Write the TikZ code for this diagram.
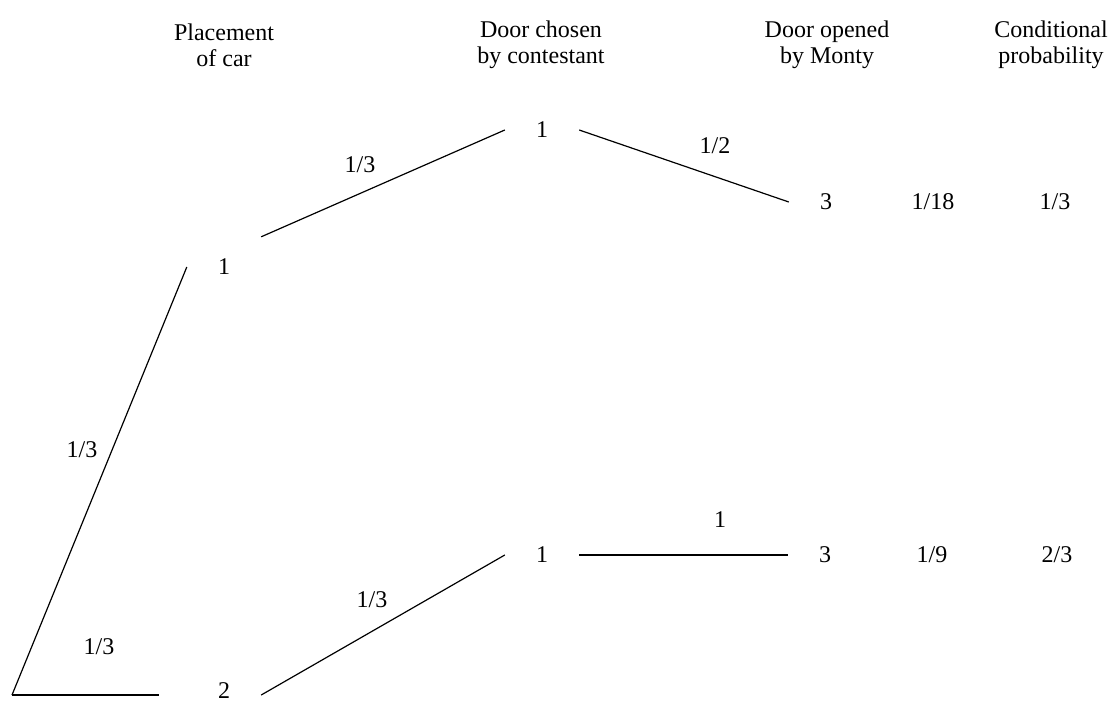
\documentclass[tikz,border=0pt]{standalone}
\usepackage{fontspec}
\setmainfont{Liberation Serif}
\begin{document}
\begin{tikzpicture}[x=1pt,y=-1pt,
  every node/.style={font=\fontsize{24}{26}\selectfont, inner sep=0pt},
  head/.style={align=center},
  tnode/.style={rectangle, minimum width=74pt, minimum height=60pt},
  lbl/.style={},
  conn/.style={line width=1.2pt}]
\useasboundingbox (0,0) rectangle (1108,704);
% headers
\node[head] (h1) at (224,45) {Placement\\of car};
\node[head] (h2) at (541,45) {Door chosen\\by contestant};
\node[head] (h3) at (827,45) {Door opened\\by Monty};
\node[head] (h4) at (1051,45) {Conditional\\probability};
% tree nodes
\coordinate (root) at (12,695);
\node[tnode] (n1) at (224,267) {1};
\node[tnode] (n2) at (224,691) {2};
\node[tnode] (n11) at (542,130) {1};
\node[tnode] (n113) at (826,202) {3};
\node[tnode] (n21) at (542,555) {1};
\node[tnode] (n213) at (825,555) {3};
% results
\node[lbl] (p1) at (933,202) {1/18};
\node[lbl] (c1) at (1055,202) {1/3};
\node[lbl] (p2) at (932,555) {1/9};
\node[lbl] (c2) at (1057,555) {2/3};
% connectors
\draw[conn] (root) -- (n1.west);
\draw[conn, shorten >=28pt] (root) -- (n2.west |- root);
\draw[conn] (n1.north east) -- (n11.west);
\draw[conn] (n11.east) -- (n113.west);
\draw[conn] (n2.east |- root) -- (n21.west);
\draw[conn] (n21.east) -- (n213.west);
% edge labels
\node[lbl] (l1) at (82,450) {1/3};
\node[lbl] (l2) at (99,647) {1/3};
\node[lbl] (l3) at (360,165) {1/3};
\node[lbl] (l4) at (715,146) {1/2};
\node[lbl] (l5) at (372,600) {1/3};
\node[lbl] (l6) at (720,520) {1};
\end{tikzpicture}
\end{document}
